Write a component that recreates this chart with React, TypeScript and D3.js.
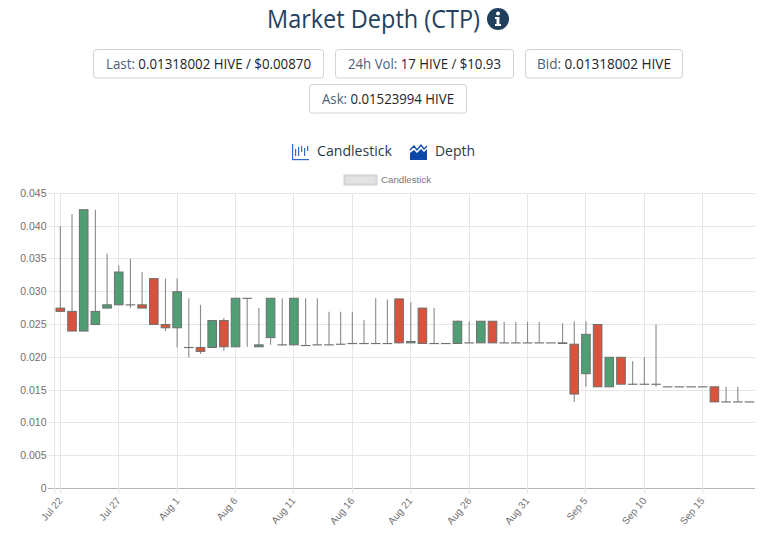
import React from "react";
import * as d3 from "d3";

const W = 768, H = 542;
const startDate = new Date(2021, 6, 22);
const opens =  [.0275,.027,.024,.025,.0275,.028,.028,.028,.032,.025,.0245,.0215,.0215,.0215,.0256,.0216,.029,.0216,.023,.0219,.0219,.0218,.0219,.0219,.022,.0221,.0221,.0221,.0221,.0289,.0222,.0275,.0221,.0221,.0221,.0222,.0222,.0255,.0222,.0222,.0222,.0222,.0222,.0222,.022,.0175,.025,.0155,.02,.0159,.0159,.0159,.0155,.0155,.0155,.0155,.0155,.0132,.0132,.0132];
const closes = [.027,.024,.0425,.027,.028,.033,.028,.0275,.025,.0245,.03,.0215,.0209,.0256,.0216,.029,.029,.0219,.029,.0219,.029,.0218,.0219,.0219,.022,.0221,.0221,.0221,.0221,.0222,.0224,.0221,.0221,.0221,.0255,.0222,.0255,.0222,.0222,.0222,.0222,.0222,.0222,.0221,.0144,.0235,.0155,.02,.0159,.0159,.0159,.0159,.0155,.0155,.0155,.0155,.0132,.0132,.0132,.0132];
const highs =  [.04,.0418,.0425,.0425,.0358,.034,.035,.033,.032,.032,.032,.029,.028,.0256,.026,.029,.029,.0275,.029,.029,.029,.029,.029,.02695,.02695,.02695,.0257,.029,.0288,.0289,.0284,.0275,.0275,.0221,.0256,.0255,.0255,.0255,.0254,.0254,.0254,.0254,.0222,.0252,.0255,.0255,.025,.02,.02,.0194,.02,.025,.0155,.0155,.0155,.0155,.0155,.0155,.0155,.0132];
const lows =   [.027,.024,.024,.025,.0275,.028,.0275,.0275,.025,.024,.0215,.02,.0205,.0215,.021,.0216,.0216,.0216,.0219,.0218,.0218,.0218,.0219,.0219,.022,.0221,.0221,.0221,.0221,.0221,.0222,.0221,.0221,.0221,.0221,.0222,.0222,.0222,.0222,.0222,.0222,.0222,.0222,.0221,.0132,.0155,.0155,.0155,.0159,.0159,.0159,.0155,.0155,.0155,.0155,.0155,.0132,.0132,.0132,.0132];
const yTicks = [0,.005,.01,.015,.02,.025,.03,.035,.04,.045];
const yLabels = ["0","0.005","0.010","0.015","0.020","0.025","0.030","0.035","0.040","0.045"];
const badges = [
  { label: "Last:", value: "0.01318002 HIVE / $0.00870", x: 93.5, y: 49.5, w: 230, tw: 205 },
  { label: "24h Vol:", value: "17 HIVE / $10.93", x: 335.5, y: 49.5, w: 178, tw: 153 },
  { label: "Bid:", value: "0.01318002 HIVE", x: 525.5, y: 49.5, w: 157, tw: 134 },
  { label: "Ask:", value: "0.01523994 HIVE", x: 309.5, y: 84.5, w: 157, tw: 132 },
];

const x = d3.scaleBand<number>().domain(d3.range(opens.length)).range([54.5, 755.3]);
const y = d3.scaleLinear().domain([0, 0.045]).range([488.5, 193.3]);
const fmt = d3.timeFormat("%b %-d");
const dateAt = (i: number) => d3.timeDay.offset(startDate, i);
const snap = (v: number) => Math.round(v - 0.5) + 0.5;
const UI = "'Open Sans', sans-serif";
const CH = "'Liberation Sans', Arial, sans-serif";

export default function App() {
  const bw = 8.6;
  return (
    <svg width={W} height={H} viewBox={`0 0 ${W} ${H}`} style={{ position: "absolute", left: 0, top: 0, display: "block" }}>
      <rect width={W} height={H} fill="#fff" />
      <text x={267} y={28} fontFamily={UI} fontSize={25} fill="#23415f" textLength={213} lengthAdjust="spacingAndGlyphs">Market Depth (CTP)</text>
      <circle cx={498} cy={19} r={11} fill="#1f3f5c" />
      <circle cx={498} cy={13.5} r={2} fill="#fff" />
      <path d="M495 17h4.4v7H501v2h-6v-2h1.5v-5H495z" fill="#fff" />
      {badges.map((b) => (
        <g key={b.label}>
          <rect x={b.x} y={b.y} width={b.w} height={28.5} rx={3} fill="#fff" stroke="#ced4da" />
          <text x={b.x + b.w / 2 - b.tw / 2} y={b.y + 19.5} fontFamily={UI} fontSize={14} fill="#212529" textLength={b.tw} lengthAdjust="spacingAndGlyphs">
            <tspan fill="#4c6177">{b.label}</tspan> {b.value}
          </text>
        </g>
      ))}
      <g fill="#2a6fc4" stroke="none">
        <rect x={292} y={144} width={1.2} height={16} />
        <rect x={292} y={159} width={17} height={1.2} />
        {[295, 298, 301, 304, 307].map((px, k) => (
          <rect key={px} x={px} y={[149, 147, 146, 148, 146][k]} width={1.2} height={[7, 9, 6, 8, 5][k]} />
        ))}
      </g>
      <text x={317} y={156} fontFamily={UI} fontSize={15} fill="#2b3a48" textLength={75} lengthAdjust="spacingAndGlyphs">Candlestick</text>
      <path d="M410 160V153l4-3 3 3 4-4 3 3 3-3v11z" fill="#0b47a8" />
      <path d="M410 150l4-4 3 4 4-5 3 4 3-3" fill="none" stroke="#0b47a8" strokeWidth={1.3} />
      <text x={435} y={156} fontFamily={UI} fontSize={15} fill="#2b3a48" textLength={40} lengthAdjust="spacingAndGlyphs">Depth</text>

      <rect x={344.5} y={175.5} width={32} height={9} fill="#e3e3e3" stroke="#d4d4d4" strokeWidth={2} />
      <text x={381} y={183} fontFamily={CH} fontSize={9.7} fill="#777">Candlestick</text>

      {yTicks.map((t, i) => {
        const py = snap(y(t));
        return (
          <g key={t}>
            <line x1={48} x2={755} y1={py} y2={py} stroke={i === 0 ? "#b5b5b5" : "#e6e6e6"} />
            <text x={46.5} y={py + 3.5} textAnchor="end" fontFamily={CH} fontSize={10.5} fill="#6f6f6f">{yLabels[i]}</text>
          </g>
        );
      })}
      <line x1={54.5} x2={54.5} y1={193} y2={494} stroke="#e6e6e6" />
      {d3.range(0, opens.length, 5).map((i) => {
        const px = snap(x(i)! + x.bandwidth() / 2);
        return (
          <g key={i}>
            <line x1={px} x2={px} y1={193} y2={494} stroke="#e6e6e6" />
            <text transform={`translate(${px + 2.5},${501}) rotate(-50)`} textAnchor="end" fontFamily={CH} fontSize={10} fill="#6f6f6f">{fmt(dateAt(i))}</text>
          </g>
        );
      })}
      {opens.map((o, i) => {
        const c = closes[i];
        const cx = x(i)! + x.bandwidth() / 2;
        const top = y(Math.max(o, c));
        const bot = y(Math.min(o, c));
        const up = c > o;
        const down = c < o;
        return (
          <g key={i}>
            <line x1={cx} x2={cx} y1={y(highs[i])} y2={y(lows[i])} stroke="#8a8a8a" strokeWidth={1.1} />
            <rect x={cx - bw / 2} y={top} width={bw} height={Math.max(bot - top, 0.1)}
              fill={up ? "#4f9e74" : down ? "#d9523c" : "#8a8a8a"} stroke="#6e6e6e" strokeWidth={1} />
          </g>
        );
      })}
    </svg>
  );
}
